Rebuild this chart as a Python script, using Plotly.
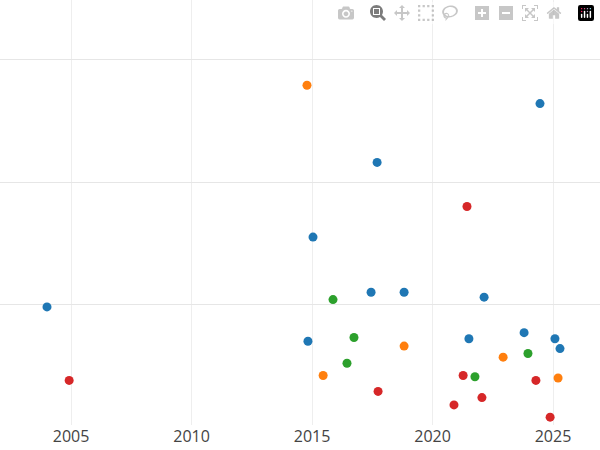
import plotly.graph_objects as go

blue_x = [2004.0, 2015.04, 2017.70, 2024.46, 2017.45, 2018.82, 2022.14, 2014.83, 2021.51, 2023.80, 2025.08, 2025.29]
blue_y = [9.8, 15.5, 21.6, 26.4, 11.0, 11.0, 10.6, 7.0, 7.2, 7.7, 7.2, 6.4]
orange_x = [2014.79, 2018.82, 2015.46, 2022.93, 2025.21]
orange_y = [27.9, 6.6, 4.2, 5.7, 4.0]
green_x = [2015.87, 2016.74, 2016.45, 2021.76, 2023.96]
green_y = [10.4, 7.3, 5.2, 4.1, 6.0]
red_x = [2004.92, 2021.43, 2017.74, 2021.27, 2020.89, 2022.05, 2024.29, 2024.88]
red_y = [3.8, 18.0, 2.9, 4.2, 1.8, 2.4, 3.8, 0.8]

fig = go.Figure()
for xs, ys, c in [(blue_x, blue_y, "#1f77b4"), (orange_x, orange_y, "#ff7f0e"),
                  (green_x, green_y, "#2ca02c"), (red_x, red_y, "#d62728")]:
    fig.add_trace(go.Scatter(x=xs, y=ys, mode="markers", marker=dict(color=c, size=9)))

fig.update_layout(
    width=600, height=450, showlegend=False,
    margin=dict(l=0, r=0, t=0, b=25),
    plot_bgcolor="white", paper_bgcolor="white",
    font=dict(family="Open Sans", size=16, color="#444"),
)
fig.update_xaxes(range=[2002.05, 2026.95], tickvals=[2005, 2010, 2015, 2020, 2025],
                 showgrid=True, gridcolor="#eeeeee", zeroline=False, ticks="")
fig.update_yaxes(range=[0.16, 34.86], tickvals=[10, 20, 30], showticklabels=False,
                 showgrid=True, gridcolor="#e6e6e6", zeroline=False)
fig.write_html("out.html", post_script="document.body.style.margin='0';document.body.style.overflow='hidden';")
